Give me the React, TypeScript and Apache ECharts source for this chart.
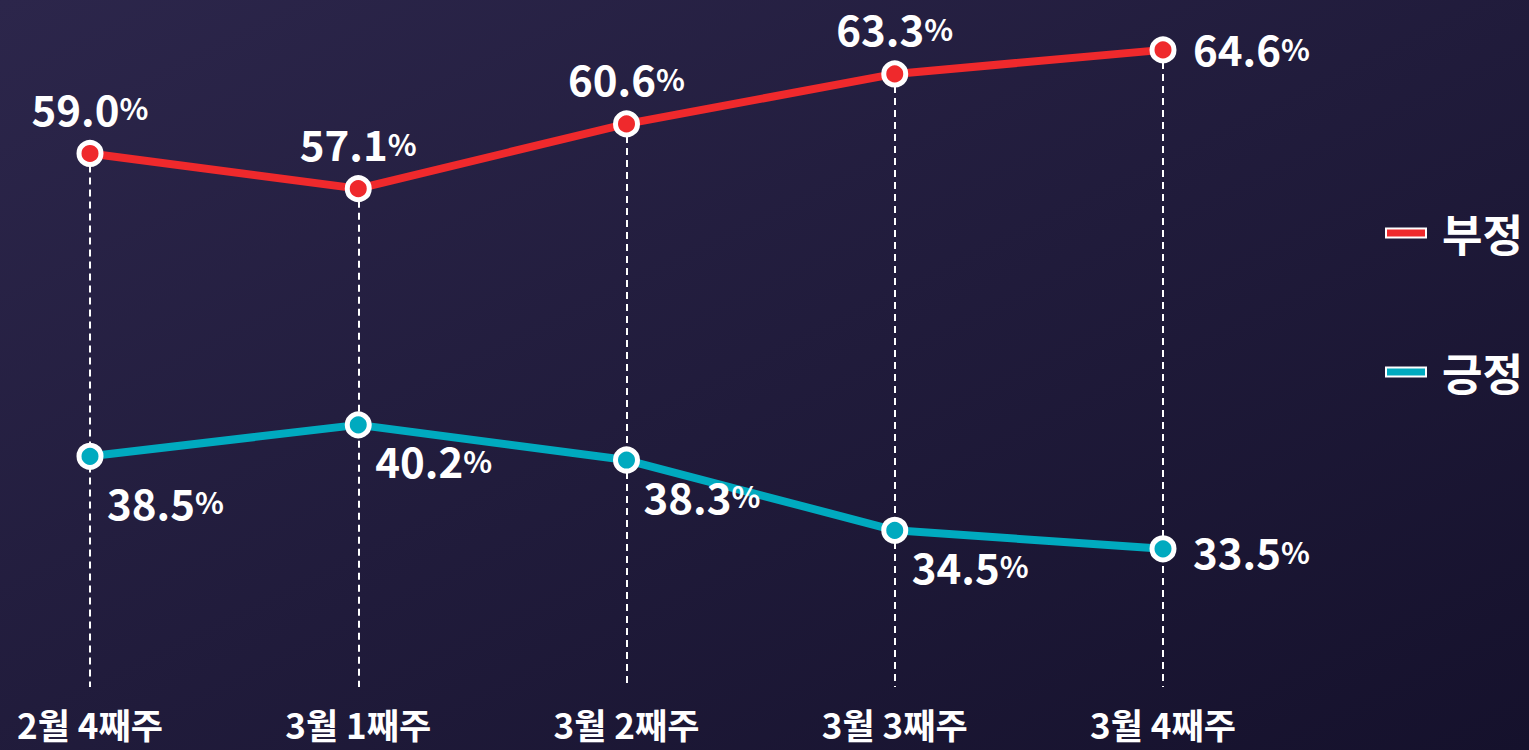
import React, { useEffect, useRef } from "react";
import * as echarts from "echarts";

const categories = ["2월 4째주", "3월 1째주", "3월 2째주", "3월 3째주", "3월 4째주"];
const negativeValues = [59.0, 57.1, 60.6, 63.3, 64.6];
const positiveValues = [38.5, 40.2, 38.3, 34.5, 33.5];
const seriesNames = ["부정", "긍정"];

const RED = "#ef292c";
const TEAL = "#00aabf";
const FONT = "'Noto Sans CJK KR', 'Noto Sans', sans-serif";

const redMin = 30.16;
const redMax = 66.54;
const tealMin = 26.03;
const tealMax = 62.41;

const rich = {
  n: { fontSize: 42, fontWeight: "bold", color: "#fff", fontFamily: FONT, lineHeight: 34 },
  p: { fontSize: 30, fontWeight: "bold", color: "#fff", fontFamily: FONT, lineHeight: 34 },
};

function fmt(v: number) {
  return `{n|${v.toFixed(1)}}{p|%}`;
}

export default function App() {
  const ref = useRef<HTMLDivElement>(null);
  useEffect(() => {
    if (!ref.current) return;
    const chart = echarts.init(ref.current, null, { renderer: "svg" });
    const last = categories.length - 1;
    const redData = negativeValues.map((v, i) => ({
      value: v,
      label:
        i === last
          ? { align: "left", verticalAlign: "middle", offset: [30, -2] }
          : { align: "center", verticalAlign: "middle", offset: [0, -46] },
    }));
    const tealData = positiveValues.map((v, i) => ({
      value: v,
      label:
        i === last
          ? { align: "left", verticalAlign: "middle", offset: [30, 2] }
          : { align: "left", verticalAlign: "middle", offset: [17, i === 0 ? 45 : 35] },
    }));
    const baseLabel = {
      show: true,
      position: "inside",
      color: "#fff",
      textBorderWidth: 0,
      formatter: (p: any) => fmt(p.value),
      rich,
    };
    chart.setOption({
      animation: false,
      backgroundColor: new echarts.graphic.LinearGradient(0, 0, 1, 1, [
        { offset: 0, color: "#2c264b" },
        { offset: 1, color: "#15112c" },
      ]),
      textStyle: { fontFamily: FONT },
      legend: {
        orient: "vertical",
        left: 1385,
        top: 211,
        padding: 0,
        itemWidth: 40,
        itemHeight: 9,
        itemGap: 95,
        icon: "rect",
        data: seriesNames,
        textStyle: {
          color: "#fff",
          fontSize: 44,
          fontWeight: "bold",
          fontFamily: FONT,
          lineHeight: 44,
          padding: [0, 0, 0, 11],
        },
      },
      grid: { left: 90, right: 366, top: 14, bottom: 63 },
      xAxis: {
        type: "category",
        data: categories,
        boundaryGap: false,
        axisLine: { show: false },
        axisTick: { show: false },
        splitLine: { show: false },
        axisLabel: {
          color: "#fff",
          fontSize: 35,
          fontWeight: "bold",
          fontFamily: FONT,
          margin: 19,
        },
      },
      yAxis: [
        { type: "value", min: redMin, max: redMax, show: false, splitLine: { show: false } },
        { type: "value", min: tealMin, max: tealMax, show: false, splitLine: { show: false } },
      ],
      series: [
        {
          name: "drop",
          type: "line",
          yAxisIndex: 0,
          data: negativeValues,
          showSymbol: false,
          silent: true,
          z: 1,
          lineStyle: { opacity: 0 },
          markLine: {
            silent: true,
            z: 1,
            symbol: "none",
            label: { show: false },
            lineStyle: { color: "#ffffff", width: 2, type: [7, 5] },
            data: negativeValues.map((v, i) => [
              { coord: [i, v] },
              { coord: [i, redMin] },
            ]),
          },
        },
        {
          name: seriesNames[0],
          type: "line",
          yAxisIndex: 0,
          z: 3,
          data: redData,
          color: RED,
          symbol: "circle",
          symbolSize: 22,
          lineStyle: { color: RED, width: 8 },
          itemStyle: { color: RED, borderColor: "#fff", borderWidth: 5 },
          label: baseLabel,
        },
        {
          name: seriesNames[1],
          type: "line",
          yAxisIndex: 1,
          z: 3,
          data: tealData,
          color: TEAL,
          symbol: "circle",
          symbolSize: 22,
          lineStyle: { color: TEAL, width: 8 },
          itemStyle: { color: TEAL, borderColor: "#fff", borderWidth: 5 },
          label: baseLabel,
        },
      ],
    });
    return () => chart.dispose();
  }, []);
  return (
    <div
      ref={ref}
      style={{ position: "absolute", left: 0, top: 0, width: 1529, height: 750 }}
    />
  );
}
